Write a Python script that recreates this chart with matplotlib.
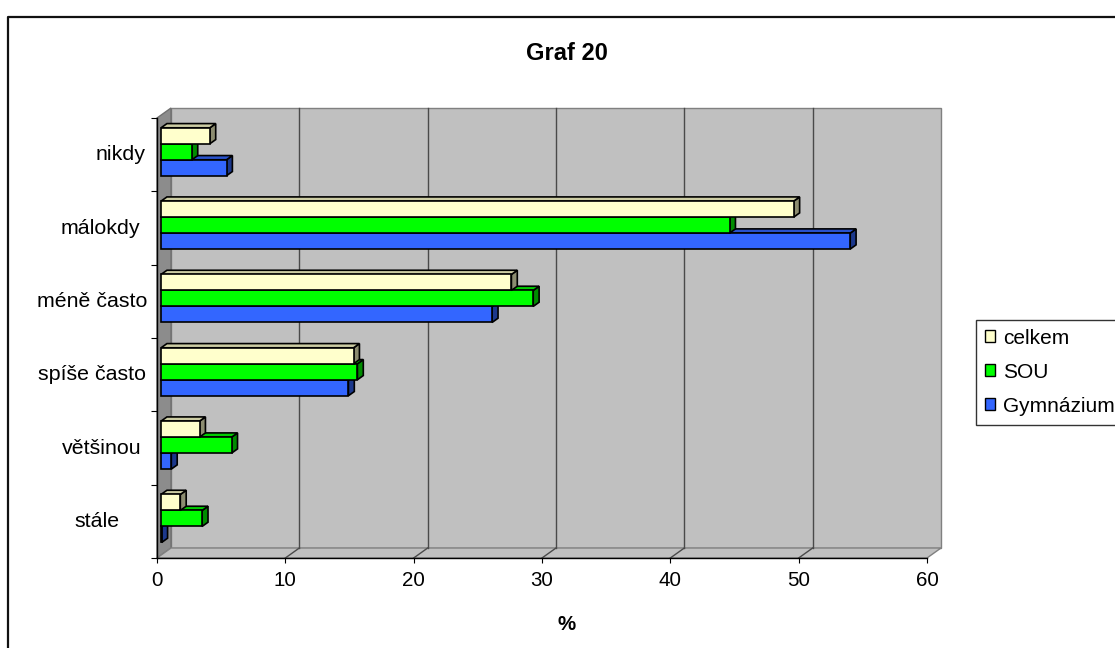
"""Graf 20: 3D-style horizontal grouped bars (celkem / SOU / Gymnázium)."""
import matplotlib
matplotlib.use('Agg')
import matplotlib.pyplot as plt
from matplotlib.patches import Polygon, Patch
from matplotlib.lines import Line2D
from matplotlib.transforms import IdentityTransform, blended_transform_factory

plt.rcParams['font.family'] = ['Liberation Sans', 'DejaVu Sans']

# Data (percent), categories listed top to bottom
categories = ['nikdy', 'málokdy', 'méně často', 'spíše často', 'většinou', 'stále']
series = ['celkem', 'SOU', 'Gymnázium']
celkem = [3.8, 49.3, 27.3, 15.0, 3.0, 1.5]
sou = [2.4, 44.3, 29.0, 15.3, 5.5, 3.2]
gymnazium = [5.1, 53.7, 25.8, 14.6, 0.8, 0.05]
x_ticks = [0, 10, 20, 30, 40, 50, 60]

front_colors = ['#FFFFCC', '#00FF00', '#3366FF']

W, H = 1115, 648
fig = plt.figure(figsize=(W / 100, H / 100), dpi=100)

# front plane of the plot: x 157..927 px, y 118..558 px
ax = fig.add_axes([157 / W, 1 - 558 / H, 770 / W, 440 / H])
ax.set_xlim(0, 60)
ax.set_ylim(0, len(categories))
ax.patch.set_visible(False)
for s in ('top', 'right'):
    ax.spines[s].set_visible(False)
for s in ('bottom', 'left'):
    ax.spines[s].set_color('black')
    ax.spines[s].set_linewidth(1.0)
    ax.spines[s].set_zorder(6)

ax.set_xticks(x_ticks)
ax.set_xticklabels([str(t) for t in x_ticks], fontsize=14.8)
ax.tick_params(axis='x', direction='out', length=3.8, width=0.8, pad=5.5)
ax.set_yticks(range(len(categories) + 1))
ax.set_yticklabels([])
ax.tick_params(axis='y', direction='out', length=4.3, width=0.8)

fig.canvas.draw()

# depth of the 3D box in pixels (towards the back wall: right and up)
DX, DY = 14.0, 10.0


def P(x, y, d):
    px, py = ax.transData.transform((x, y))
    return (px + d * DX, py + d * DY)


def face(pts, fc, ec, lw=1.0, z=1):
    ax.add_patch(Polygon(pts, closed=True, facecolor=fc, edgecolor=ec,
                         linewidth=lw, transform=IdentityTransform(),
                         clip_on=False, zorder=z, joinstyle='miter'))


n = len(categories)
xmax = 60
# walls
face([P(0, 0, 1), P(xmax, 0, 1), P(xmax, n, 1), P(0, n, 1)], '#C0C0C0', '#808080', 1.0, 0)
face([P(0, 0, 0), P(0, 0, 1), P(0, n, 1), P(0, n, 0)], '#8C8C8C', '#707070', 1.0, 0.5)
face([P(0, 0, 0), P(xmax, 0, 0), P(xmax, 0, 1), P(0, 0, 1)], '#C0C0C0', '#808080', 1.0, 0.5)

# gridlines on back wall and floor
for v in x_ticks[1:-1]:
    for a, b in ((P(v, 0, 1), P(v, n, 1)), (P(v, 0, 0), P(v, 0, 1))):
        ax.add_line(Line2D([a[0], b[0]], [a[1], b[1]], color='#4A4A4A', linewidth=1.0,
                           transform=IdentityTransform(), clip_on=False, zorder=0.8))


def shade(hexc, f):
    r, g, b = matplotlib.colors.to_rgb(hexc)
    return (r * f, g * f, b * f)


# bars
values = [celkem, sou, gymnazium]
bar_h = 0.218
d0, d1 = 0.29, 0.71
z = 2
for ci in range(n - 1, -1, -1):
    c = n - 0.5 - ci
    for si in range(len(series) - 1, -1, -1):
        v = values[si][ci]
        y1 = c + bar_h * 1.5 - si * bar_h
        y0 = y1 - bar_h
        col = front_colors[si]
        face([P(v, y0, d0), P(v, y0, d1), P(v, y1, d1), P(v, y1, d0)], shade(col, 0.55), 'black', 1.2, z)
        face([P(0, y1, d0), P(v, y1, d0), P(v, y1, d1), P(0, y1, d1)], shade(col, 0.8), 'black', 1.2, z)
        face([P(0, y0, d0), P(v, y0, d0), P(v, y1, d0), P(0, y1, d0)], col, 'black', 1.2, z)
        z += 0.01

# category labels
label_cx = [121, 100, 92, 92.5, 102, 97.5]
tr = blended_transform_factory(ax.transAxes, ax.transData)
for ci, lab in enumerate(categories):
    ax.text((label_cx[ci] - 157) / 770, n - 0.5 - ci, lab, transform=tr,
            ha='center', va='center', fontsize=15.4, clip_on=False)

# title and axis label
fig.text(567 / W, 1 - 53 / H, 'Graf 20', ha='center', va='center',
         fontsize=17, fontweight='bold')
fig.text(567 / W, 1 - 625 / H, '%', ha='center', va='center',
         fontsize=14.8, fontweight='bold')

# legend
handles = [Patch(facecolor=front_colors[i], edgecolor='black', linewidth=1.0, label=series[i])
           for i in range(len(series))]
leg = fig.legend(handles=handles, loc='upper left', bbox_to_anchor=(976 / W, 1 - 320 / H),
                 bbox_transform=fig.transFigure, fontsize=15, frameon=True, fancybox=False,
                 borderaxespad=0, borderpad=0.42, labelspacing=0.72, handlelength=0.5,
                 handleheight=0.5, handletextpad=0.4)
leg.get_frame().set_edgecolor('black')
leg.get_frame().set_linewidth(1.0)

# outer chart border
fig.add_artist(Line2D([8 / W, 8 / W, 1.01], [-0.01, 1 - 17 / H, 1 - 17 / H],
                      color='#111111', linewidth=1.6, transform=fig.transFigure))

fig.savefig('out.png', dpi=100)
